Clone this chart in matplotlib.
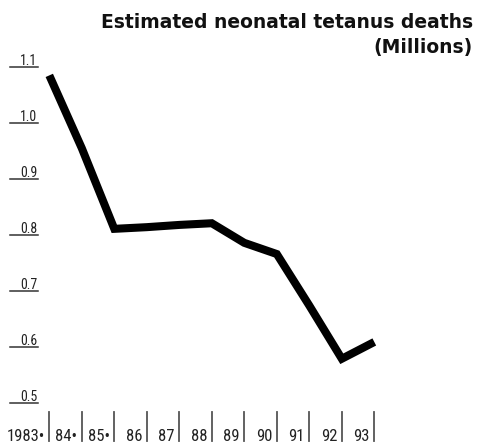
import matplotlib
matplotlib.use("Agg")
import matplotlib.pyplot as plt
from matplotlib.transforms import offset_copy
from matplotlib import font_manager

years = ["1983•", "84•", "85•", "86", "87", "88", "89", "90", "91", "92", "93"]
deaths = [1.085, 0.955, 0.811, 0.814, 0.818, 0.821, 0.786, 0.766, 0.674, 0.579, 0.609]
yticks = [0.5, 0.6, 0.7, 0.8, 0.9, 1.0, 1.1]
ytick_labels = ["0.5", "0.6", "0.7", "0.8", "0.9", "1.0", "1.1"]

W, H, DPI = 483, 444, 100
fig = plt.figure(figsize=(W / DPI, H / DPI), dpi=DPI)
fig.patch.set_facecolor("white")

names = {f.name for f in font_manager.fontManager.ttflist}
narrow = ["DejaVu Sans"]
for p in ["Roboto Condensed", "Liberation Sans Narrow", "Archivo Narrow",
          "Barlow Condensed", "Asap Condensed"]:
    if p in names:
        narrow = [p, "DejaVu Sans"]
        break

# axes placed in pixel coordinates
left_px, right_px = 49.3, 374.3
top_px, bottom_px = 67.0, 403.0
ax = fig.add_axes([left_px / W, 1 - bottom_px / H,
                   (right_px - left_px) / W, (bottom_px - top_px) / H])
ax.set_xlim(0, len(years) - 1)
ax.set_ylim(0.5, 1.1)
ax.axis("off")

x = list(range(len(years)))
ax.plot(x, deaths, color="black", lw=5.8, solid_joinstyle="miter",
        solid_capstyle="butt", clip_on=False)

ytr = ax.get_yaxis_transform()
px = 1.0 / (right_px - left_px)
for v, lab in zip(yticks, ytick_labels):
    ax.plot([(10 - left_px) * px, (38 - left_px) * px], [v, v], transform=ytr,
            color="#333333", lw=1.1, clip_on=False)
    t = offset_copy(ytr, fig=fig, x=0, y=2.5, units="dots")
    ax.text((37.5 - left_px) * px, v, lab, transform=t, ha="right",
            va="baseline", fontsize=10, family=narrow, color="#222222")

xtr = ax.get_xaxis_transform()
py = 1.0 / (bottom_px - top_px)
for xi, lab in zip(x, years):
    ax.plot([xi, xi], [-(412 - bottom_px) * py, -(441 - bottom_px) * py],
            transform=xtr, color="#555555", lw=1.3, clip_on=False)
    t = offset_copy(xtr, fig=fig, x=-4.5, y=0, units="dots")
    ax.text(xi, -(440.5 - bottom_px) * py, lab, transform=t, ha="right",
            va="baseline", fontsize=12, family=narrow, color="#222222")

fig.text(473 / W, 1 - 28 / H, "Estimated neonatal tetanus deaths",
         ha="right", va="baseline", fontsize=13.5, fontweight="bold",
         family="DejaVu Sans", color="#111111")
fig.text(473 / W, 1 - 53 / H, "(Millions)",
         ha="right", va="baseline", fontsize=13.5, fontweight="bold",
         family="DejaVu Sans", color="#111111")

fig.savefig("out.png", dpi=DPI, facecolor="white")
